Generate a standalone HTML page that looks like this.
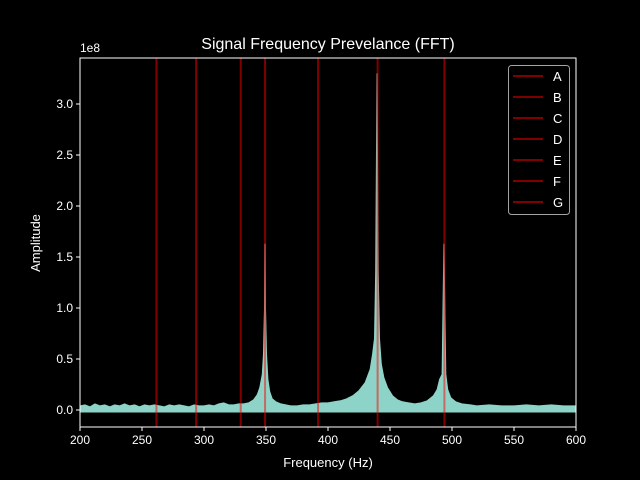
<!DOCTYPE html>
<html><head><meta charset="utf-8"><style>
body{margin:0;background:#000;}
svg{display:block;font-family:"Liberation Sans","DejaVu Sans",sans-serif;}
</style></head><body>
<svg id="chart" width="640" height="480" viewBox="0 0 640 480">
<rect width="640" height="480" fill="#000"/>
<g id="plot"></g>
<g id="axes"></g>
<text x="328" y="49" fill="#fff" font-size="16" text-anchor="middle">Signal Frequency Prevelance (FFT)</text>
<text x="80" y="52" fill="#fff" font-size="12">1e8</text>
<text x="328" y="467" fill="#fff" font-size="13" text-anchor="middle">Frequency (Hz)</text>
<text x="40" y="243" fill="#fff" font-size="13" text-anchor="middle" transform="rotate(-90 40 243)">Amplitude</text>
</svg>
<script>
const freqs=[200,204,208,212,216,220,224,228,232,236,240,244,248,252,256,260,264,268,272,276,280,284,288,292,296,300,304,308,312,316,320,324,328,332,336,340,343,345,347,348,348.8,349.2,349.6,350.4,351.5,353,355,358,362,366,370,375,380,385,390,395,400,405,410,415,420,425,430,434,436,437.5,438.5,439.5,440.5,441.5,443,445,448,452,456,460,465,470,475,480,485,488,490,492,493.5,494.3,495,496.5,499,503,508,515,520,530,540,550,560,570,580,590,600];
const amps=[0.04,0.05,0.03,0.06,0.04,0.05,0.03,0.05,0.04,0.06,0.04,0.05,0.03,0.05,0.04,0.05,0.04,0.03,0.05,0.04,0.05,0.04,0.03,0.05,0.04,0.04,0.05,0.04,0.06,0.07,0.05,0.05,0.06,0.06,0.07,0.10,0.15,0.22,0.35,0.55,1.0,1.63,1.0,0.55,0.30,0.18,0.11,0.08,0.06,0.05,0.04,0.04,0.05,0.05,0.06,0.07,0.07,0.08,0.09,0.11,0.14,0.19,0.27,0.40,0.55,0.70,1.36,3.3,1.36,0.70,0.45,0.32,0.22,0.14,0.10,0.08,0.07,0.06,0.07,0.09,0.14,0.2,0.3,0.35,1.63,1.0,0.35,0.2,0.12,0.08,0.06,0.05,0.04,0.05,0.04,0.04,0.05,0.04,0.05,0.04,0.04];
const noteNames=["A","B","C","D","E","F","G"];
const noteFreqs=[440,493.88,261.63,293.66,329.63,349.23,392.0];
const xTicks=[200,250,300,350,400,450,500,550,600];
const yTicks=[0,0.5,1.0,1.5,2.0,2.5,3.0];
const L=80,R=576,T=58,B=427;
const X=f=>L+(f-200)*(R-L)/400;
const Y=v=>410-v*102;
const NS="http://www.w3.org/2000/svg";
function mk(t,a,p){const e=document.createElementNS(NS,t);for(const k in a)e.setAttribute(k,a[k]);p.appendChild(e);return e;}
const plot=document.getElementById('plot'),axes=document.getElementById('axes');
let d="M"+X(freqs[0])+","+Y(-0.02);
for(let i=0;i<freqs.length;i++)d+=" L"+X(freqs[i]).toFixed(1)+","+Y(amps[i]).toFixed(1);
d+=" L"+X(freqs[freqs.length-1])+","+Y(-0.02)+" Z";
const sp=mk('path',{d:d,fill:"#8dd3c7",stroke:"#8dd3c7","stroke-width":1},plot);


noteFreqs.forEach((f,i)=>{const l=mk('line',{x1:X(f),x2:X(f),y1:T,y2:B,stroke:"rgba(255,0,0,0.5)","stroke-width":2},plot);

});
const fr=mk('rect',{x:L,y:T,width:R-L,height:B-T,fill:"none",stroke:"#fff","stroke-width":1},axes);


xTicks.forEach(t=>{mk('line',{x1:X(t),x2:X(t),y1:B,y2:B+4,stroke:"#fff"},axes);
const tx=mk('text',{x:X(t),y:B+17,fill:"#fff","font-size":12,"text-anchor":"middle"},axes);tx.textContent=t;

});
yTicks.forEach(t=>{mk('line',{x1:L-4,x2:L,y1:Y(t),y2:Y(t),stroke:"#fff"},axes);
const tx=mk('text',{x:L-7,y:Y(t)+4,fill:"#fff","font-size":12,"text-anchor":"end"},axes);tx.textContent=t.toFixed(1);

});
const lg=mk('g',{},axes);


mk('rect',{x:508.5,y:65.5,width:61,height:149,rx:3,fill:"#000",stroke:"#ccc","stroke-opacity":0.8},lg);
noteNames.forEach((n,i)=>{const y=76+i*21;
mk('line',{x1:513,x2:543,y1:y,y2:y,stroke:"rgba(255,0,0,0.5)","stroke-width":2},lg);
const tx=mk('text',{x:553,y:y+5,fill:"#fff","font-size":13},lg);tx.textContent=n;

});
</script>
</body></html>
